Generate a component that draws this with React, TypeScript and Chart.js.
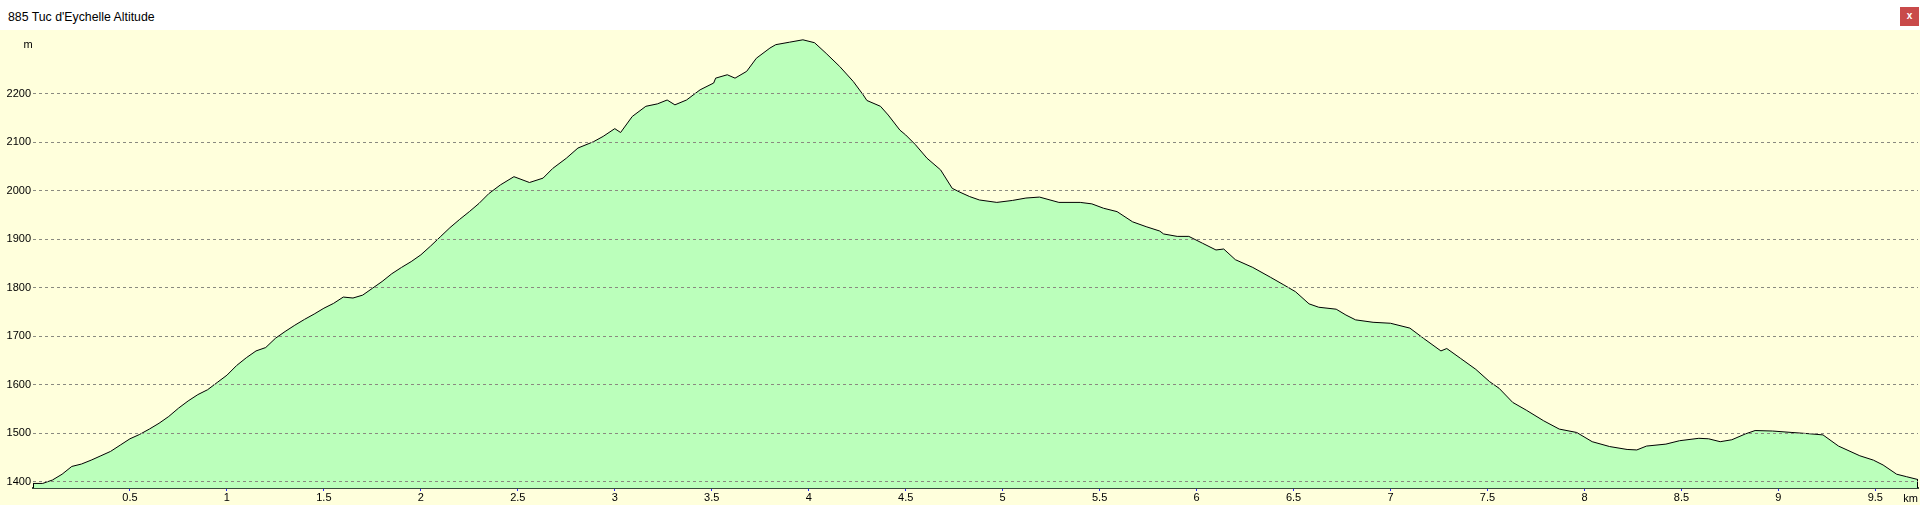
import React, { useEffect, useRef } from "react";
import { Chart, registerables } from "chart.js";

Chart.register(...registerables);

const titleText = "885 Tuc d'Eychelle Altitude";
const yUnit = "m";
const xUnit = "km";

const distanceKm = [
  0, 0.05, 0.1, 0.15, 0.2, 0.25, 0.3, 0.35, 0.4, 0.45,
  0.5, 0.55, 0.6, 0.65, 0.7, 0.75, 0.8, 0.85, 0.9, 0.95,
  1.0, 1.05, 1.1, 1.15, 1.2, 1.25, 1.3, 1.35, 1.4, 1.45,
  1.5, 1.55, 1.6, 1.65, 1.7, 1.75, 1.8, 1.85, 1.9, 1.95,
  2.0, 2.05, 2.1, 2.15, 2.2, 2.25, 2.3, 2.35, 2.41, 2.48,
  2.56, 2.63, 2.68, 2.75, 2.81, 2.89, 2.94, 3.0, 3.03, 3.09,
  3.16, 3.22, 3.27, 3.31, 3.37, 3.44, 3.51, 3.52, 3.58, 3.62,
  3.68, 3.73, 3.8, 3.83, 3.9, 3.97, 4.03, 4.09, 4.16, 4.23,
  4.28, 4.3, 4.37, 4.41, 4.47, 4.5, 4.55, 4.61, 4.68, 4.74,
  4.78, 4.83, 4.88, 4.97, 5.05, 5.12, 5.19, 5.29, 5.4, 5.46,
  5.52, 5.59, 5.67, 5.74, 5.81, 5.83, 5.9, 5.96, 6.03, 6.1,
  6.14, 6.2, 6.29, 6.38, 6.45, 6.51, 6.58, 6.63, 6.72, 6.77,
  6.82, 6.91, 7.0, 7.1, 7.17, 7.26, 7.29, 7.36, 7.44, 7.51,
  7.56, 7.63, 7.7, 7.79, 7.87, 7.96, 8.04, 8.13, 8.22, 8.27,
  8.32, 8.42, 8.49, 8.59, 8.64, 8.7, 8.76, 8.83, 8.88, 8.97,
  9.07, 9.14, 9.23, 9.31, 9.42, 9.49, 9.54, 9.61, 9.66, 9.71,
  9.72,
];

const altitudeM = [
  1397, 1397, 1404, 1416, 1432, 1437, 1445, 1454, 1463, 1476,
  1489, 1498, 1509, 1521, 1535, 1552, 1567, 1580, 1590, 1605,
  1620, 1640, 1656, 1670, 1677, 1696, 1710, 1723, 1735, 1746,
  1758, 1768, 1781, 1779, 1785, 1799, 1813, 1829, 1842, 1854,
  1868, 1886, 1905, 1924, 1941, 1957, 1974, 1994, 2012, 2029,
  2017, 2026, 2046, 2067, 2088, 2101, 2112, 2128, 2120, 2153,
  2174, 2179, 2187, 2177, 2187, 2208, 2222, 2232, 2239, 2232,
  2246, 2273, 2294, 2301, 2306, 2311, 2305, 2283, 2256, 2225,
  2198, 2186, 2174, 2156, 2125, 2115, 2095, 2067, 2043, 2005,
  1997, 1988, 1981, 1976, 1980, 1985, 1987, 1976, 1976, 1973,
  1964, 1957, 1936, 1926, 1917, 1911, 1906, 1906, 1892, 1878,
  1880, 1858, 1842, 1822, 1806, 1792, 1767, 1760, 1756, 1744,
  1734, 1729, 1727, 1717, 1696, 1670, 1675, 1655, 1632, 1607,
  1593, 1564, 1548, 1526, 1509, 1502, 1483, 1473, 1467, 1466,
  1474, 1478, 1485, 1490, 1489, 1483, 1487, 1499, 1506, 1505,
  1502, 1500, 1497, 1474, 1454, 1445, 1435, 1416, 1411, 1406,
  1405,
];

const yTicks = [1400, 1500, 1600, 1700, 1800, 1900, 2000, 2100, 2200];
const xTicks = [0.5, 1, 1.5, 2, 2.5, 3, 3.5, 4, 4.5, 5, 5.5, 6, 6.5, 7, 7.5, 8, 8.5, 9, 9.5];

const FONT = "'Liberation Sans', Arial, sans-serif";

const overlayPlugin = {
  id: "overlay",
  afterDatasetsDraw(chart: any) {
    const meta = chart.getDatasetMeta(0);
    const pts = meta.data;
    if (!pts || !pts.length) return;
    const ctx = chart.ctx;
    const bottom = chart.chartArea.bottom;
    const first = pts[0];
    const last = pts[pts.length - 1];
    ctx.save();
    ctx.strokeStyle = "#000";
    ctx.lineWidth = 1;
    ctx.beginPath();
    const fx = Math.round(first.x) + 0.5;
    ctx.moveTo(fx, first.y);
    ctx.lineTo(fx, bottom);
    const lx = Math.round(last.x) - 0.5;
    ctx.moveTo(lx, last.y);
    ctx.lineTo(lx, bottom);
    ctx.stroke();
    ctx.restore();
  },
  afterDraw(chart: any) {
    const ctx = chart.ctx;
    ctx.save();
    ctx.fillStyle = "#000";
    ctx.font = `11px ${FONT}`;
    ctx.textBaseline = "alphabetic";
    ctx.textAlign = "center";
    ctx.fillText(yUnit, 28, 18);
    ctx.textAlign = "right";
    ctx.fillText(xUnit, 1918, 472);
    ctx.restore();
  },
};

function ElevationChart() {
  const ref = useRef<HTMLCanvasElement | null>(null);
  useEffect(() => {
    if (!ref.current) return;
    const chart = new Chart(ref.current, {
      type: "line",
      data: {
        datasets: [
          {
            data: distanceKm.map((x, i) => ({ x, y: altitudeM[i] })),
            borderColor: "#000000",
            borderWidth: 1,
            backgroundColor: "#bbffbb",
            fill: "start",
            pointRadius: 0,
            tension: 0,
          },
        ],
      },
      options: {
        animation: false,
        responsive: false,
        devicePixelRatio: 1,
        layout: { padding: { left: 0, right: 2, top: 0, bottom: 0 } },
        plugins: {
          legend: { display: false },
          tooltip: { enabled: false },
          title: { display: false },
        },
        scales: {
          x: {
            type: "linear",
            min: 0,
            max: 9.72,
            afterBuildTicks: (s: any) => {
              s.ticks = xTicks.map((v) => ({ value: v }));
            },
            afterFit: (s: any) => {
              s.height = 17;
              s.paddingLeft = 0;
              s.paddingRight = 0;
            },
            grid: {
              drawOnChartArea: false,
              drawTicks: true,
              tickLength: 3,
              color: "#2a2aff",
              lineWidth: 1,
            },
            border: { display: true, color: "#3a4a3a", width: 2 },
            ticks: {
              autoSkip: false,
              maxRotation: 0,
              padding: 0,
              color: "#000",
              font: { family: FONT, size: 11 },
              callback: (v: any) => String(v),
            },
          },
          y: {
            type: "linear",
            min: 1387.6,
            max: 2331.2,
            afterBuildTicks: (s: any) => {
              s.ticks = yTicks.map((v) => ({ value: v }));
            },
            afterFit: (s: any) => {
              s.width = 33;
              s.paddingTop = 0;
              s.paddingBottom = 0;
            },
            grid: {
              color: "#8a8a80",
              lineWidth: 1,
              drawTicks: false,
              z: 1,
            },
            border: { display: false, dash: [3, 3] },
            ticks: {
              padding: 2,
              color: "#000",
              font: { family: FONT, size: 11 },
              callback: (v: any) => String(v),
            },
          },
        },
      },
      plugins: [overlayPlugin],
    });
    return () => chart.destroy();
  }, []);
  return (
    <canvas
      ref={ref}
      width={1920}
      height={475}
      style={{ position: "absolute", left: 0, top: 30, width: 1920, height: 475, background: "#ffffdc", display: "block" }}
    />
  );
}

export default function App() {
  return (
    <div style={{ position: "fixed", left: 0, top: 0, width: 1920, height: 505, background: "#ffffff", overflow: "hidden" }}>
      <div
        style={{
          position: "absolute",
          left: 8,
          top: 10,
          fontFamily: FONT,
          fontSize: 12.3,
          lineHeight: "14px",
          color: "#000",
          whiteSpace: "nowrap",
        }}
      >
        {titleText}
      </div>
      <div
        style={{
          position: "absolute",
          left: 1900,
          top: 7,
          width: 19,
          height: 19,
          background: "#c94a4a",
          color: "#fff",
          fontFamily: FONT,
          fontSize: 10,
          fontWeight: "bold",
          lineHeight: "18px",
          textAlign: "center",
          boxSizing: "border-box",
        }}
      >
        x
      </div>
      <ElevationChart />
    </div>
  );
}
